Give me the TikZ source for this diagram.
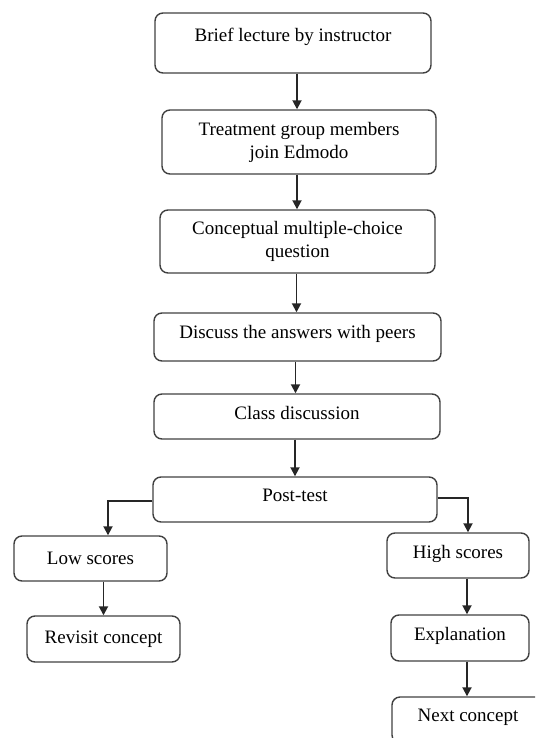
\documentclass[tikz,border=0pt]{standalone}
\usepackage{fontspec}
\setmainfont{Liberation Serif}
\usetikzlibrary{arrows.meta}

\begin{document}
\begin{tikzpicture}[x=1pt,y=-1pt]
\tikzset{stepbox/.style={draw=black!75,line width=1.4pt,rounded corners=8pt,align=center,inner sep=0pt,font=\fontsize{19}{23}\selectfont},
flow/.style={draw=black!85,line width=1.8pt,-{Triangle[width=9pt,length=9pt]}}}
\useasboundingbox (0,0) rectangle (535,738);
\clip (0,0) rectangle (535,738);
\node[stepbox,minimum width=276pt,minimum height=60pt,text depth=17pt] (lecture) at (293,43) {Brief lecture by instructor};
\node[stepbox,minimum width=274pt,minimum height=64pt] (join) at (299,142) {Treatment group members\\join Edmodo};
\node[stepbox,minimum width=275pt,minimum height=63pt] (question) at (297.5,241.5) {Conceptual multiple-choice\\question};
\node[stepbox,minimum width=287pt,minimum height=48pt,text depth=10pt] (discuss) at (297.5,337) {Discuss the answers with peers};
\node[stepbox,minimum width=286pt,minimum height=45pt,text depth=8pt] (class) at (297,416.5) {Class discussion};
\node[stepbox,minimum width=284pt,minimum height=45pt,text depth=8pt] (post) at (295,499.5) {Post-test};
\node[stepbox,minimum width=153pt,minimum height=45pt] (low) at (90.5,558.5) {Low scores};
\node[stepbox,minimum width=142pt,minimum height=45pt,text depth=8pt] (high) at (458,555.5) {High scores};
\node[stepbox,minimum width=153pt,minimum height=46pt] (revisit) at (103.5,639) {Revisit concept};
\node[stepbox,minimum width=138pt,minimum height=46pt,text depth=8pt] (explain) at (460,638) {Explanation};
\node[stepbox,minimum width=152pt,minimum height=46pt,text depth=10pt] (next) at (468,720) {Next concept};
\draw[flow] ([xshift=4pt]lecture.south) -- ([xshift=4pt]lecture.south |- join.north);
\draw[flow] ([xshift=-2pt]join.south) -- ([xshift=-2pt]join.south |- question.north);
\draw[flow] ([xshift=-1pt]question.south) -- ([xshift=-1pt]question.south |- discuss.north);
\draw[flow] ([xshift=-2pt]discuss.south) -- ([xshift=-2pt]discuss.south |- class.north);
\draw[flow] ([xshift=-2pt]class.south) -- ([xshift=-2pt]class.south |- post.north);
\draw[flow] ([yshift=-1.5pt]post.west) -| ([xshift=17.5pt]low.north);
\draw[flow] ([yshift=1.5pt]post.east) -| ([xshift=10pt]high.north);
\draw[flow] (revisit.north |- low.south) -- (revisit.north);
\draw[flow] ([xshift=9pt]high.south) -- ([xshift=9pt]high.south |- explain.north);
\draw[flow] ([xshift=7pt]explain.south) -- ([xshift=7pt]explain.south |- next.north);
\end{tikzpicture}
\end{document}
